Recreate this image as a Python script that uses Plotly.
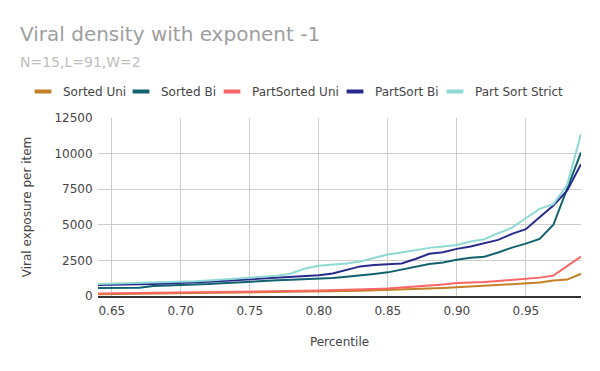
import plotly.graph_objects as go

percentile = [0.64, 0.65, 0.66, 0.67, 0.68, 0.69, 0.70, 0.71, 0.72, 0.73, 0.74, 0.75,
              0.76, 0.77, 0.78, 0.79, 0.80, 0.81, 0.82, 0.83, 0.84, 0.85, 0.86, 0.87,
              0.88, 0.89, 0.90, 0.91, 0.92, 0.93, 0.94, 0.95, 0.96, 0.97, 0.98, 0.99]

sorted_uni = [120, 130, 140, 150, 160, 170, 180, 190, 200, 215, 230, 240,
              255, 270, 285, 300, 315, 330, 350, 370, 395, 420, 450, 480,
              510, 560, 610, 660, 720, 790, 850, 890, 940, 1090, 1150, 1560]

sorted_bi = [560, 570, 575, 580, 710, 730, 750, 790, 840, 900, 960, 1000,
             1050, 1100, 1140, 1180, 1200, 1270, 1360, 1430, 1550, 1660, 1860, 2030,
             2250, 2350, 2550, 2680, 2760, 3060, 3400, 3680, 4010, 5000, 7570, 10080]

partsorted_uni = [170, 180, 190, 200, 210, 220, 235, 250, 265, 280, 295, 305,
                  320, 335, 350, 370, 385, 400, 420, 450, 490, 530, 590, 690,
                  750, 800, 915, 940, 985, 1055, 1125, 1200, 1290, 1430, 2130, 2770]

partsort_bi = [770, 780, 800, 820, 850, 880, 910, 950, 1000, 1060, 1120, 1170,
               1210, 1280, 1350, 1420, 1460, 1580, 1820, 2080, 2170, 2230, 2280, 2600,
               2960, 3080, 3310, 3470, 3700, 3940, 4360, 4690, 5530, 6350, 7410, 9260]

part_sort_strict = [850, 870, 900, 920, 950, 970, 990, 1040, 1090, 1160, 1240, 1330,
                    1390, 1430, 1580, 1930, 2120, 2180, 2290, 2420, 2650, 2920, 3060, 3220,
                    3380, 3470, 3580, 3820, 3990, 4410, 4800, 5460, 6120, 6450, 7810, 11370]

series_names = ["Sorted Uni", "Sorted Bi", "PartSorted Uni", "PartSort Bi", "Part Sort Strict"]
series_values = [sorted_uni, sorted_bi, partsorted_uni, partsort_bi, part_sort_strict]
colors = ["#c47f27", "#12616f", "#f96565", "#272a8c", "#8fd9d4"]

x_ticks = [0.65, 0.70, 0.75, 0.80, 0.85, 0.90, 0.95]
y_ticks = [0, 2500, 5000, 7500, 10000, 12500]

FONT = "DejaVu Sans"
OFF = 8  # page body margin in the browser
FW, FH = 600 - OFF, 371 - OFF
L, R, T, B = 98 - OFF, 19, 118 - OFF, 75
PW = FW - L - R
PH = FH - T - B


def px_to_paper_x(px):
    return (px - OFF - L) / PW


def px_to_paper_y(py):
    return (FH - B - (py - OFF)) / PH


fig = go.Figure()

for name, vals, col in zip(series_names, series_values, colors):
    fig.add_trace(go.Scatter(
        x=percentile, y=vals, mode="lines", name=name,
        line=dict(color=col, width=2), showlegend=False, hoverinfo="skip"))

legend_left = [23, 121, 212, 335, 435]
legend_keys = ["legend", "legend2", "legend3", "legend4", "legend5"]
for name, col, key in zip(series_names, colors, legend_keys):
    fig.add_trace(go.Scatter(
        x=[None], y=[None], mode="markers", name=name, legend=key,
        marker=dict(symbol="line-ew", size=12, color=col,
                    line=dict(color=col, width=4)),
        showlegend=True))

layout_legends = {}
for key, lx in zip(legend_keys, legend_left):
    layout_legends[key] = dict(
        orientation="h", x=px_to_paper_x(lx), xanchor="left",
        y=px_to_paper_y(91.5), yanchor="middle",
        font=dict(family=FONT, size=12, color="#444444"),
        bgcolor="rgba(0,0,0,0)", borderwidth=0, itemwidth=30)

fig.update_layout(
    width=FW, height=FH,
    margin=dict(l=L, r=R, t=T, b=B),
    paper_bgcolor="white", plot_bgcolor="white",
    font=dict(family=FONT, size=12, color="#444444"),
    **layout_legends,
    xaxis=dict(
        range=[0.64, 0.99], tickvals=x_ticks, tickformat=".2f",
        showgrid=True, gridcolor="#cccccc", gridwidth=1,
        zeroline=False, showline=True, linecolor="#333333", linewidth=2,
        ticks="outside", ticklen=3, tickcolor="rgba(0,0,0,0)",
        tickfont=dict(family=FONT, size=12, color="#444444"),
        title=dict(text="Percentile", font=dict(family=FONT, size=12, color="#444444"),
                   standoff=20),
        automargin=False),
    yaxis=dict(
        range=[0, 12500], tickvals=y_ticks, tickformat="d",
        showgrid=True, gridcolor="#cccccc", gridwidth=1,
        zeroline=False, showline=False,
        ticks="outside", ticklen=2, tickcolor="rgba(0,0,0,0)",
        tickfont=dict(family=FONT, size=12, color="#444444"),
        title=dict(text="Viral exposure per item",
                   font=dict(family=FONT, size=12, color="#444444"), standoff=20),
        automargin=False),
    annotations=[
        dict(text="Viral density with exponent -1", xref="paper", yref="paper",
             x=px_to_paper_x(18), y=px_to_paper_y(34), xanchor="left", yanchor="middle",
             showarrow=False, font=dict(family=FONT, size=20, color="#9e9e9e")),
        dict(text="N=15,L=91,W=2", xref="paper", yref="paper",
             x=px_to_paper_x(18), y=px_to_paper_y(62), xanchor="left", yanchor="middle",
             showarrow=False, font=dict(family=FONT, size=14, color="#bdbdbd")),
    ],
)

fig.write_html("out.html")
